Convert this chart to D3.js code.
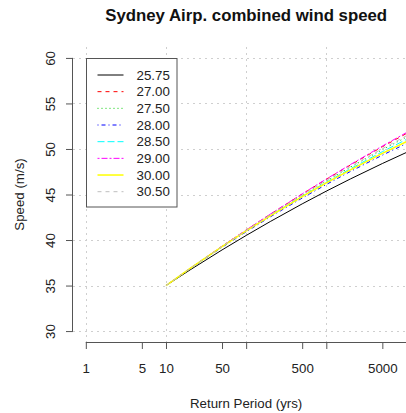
<!DOCTYPE html>
<html><head><meta charset="utf-8">
<script src="https://cdn.jsdelivr.net/npm/d3@7"></script>
<style>
body{margin:0;background:#fff;}
svg{display:block;font-family:"Liberation Sans",Arial,sans-serif;}
</style></head>
<body>
<script>
const returnPeriods = [10, 20, 50, 100, 200, 500, 1000, 2000, 5000, 10000];
const seriesNames = ["25.75","27.00","27.50","28.00","28.50","29.00","30.00","30.50"];
const s2575 = [35, 36.72, 38.91, 40.50, 42.03, 43.97, 45.37, 46.71, 48.40, 49.62];
const s2700 = [35, 36.89, 39.32, 41.10, 42.83, 45.05, 46.67, 48.24, 50.24, 51.70];
const s2750 = [35, 36.89, 39.29, 41.05, 42.75, 44.91, 46.48, 48.00, 49.92, 51.30];
const s2800 = [35, 36.85, 39.20, 40.90, 42.54, 44.61, 46.10, 47.53, 49.32, 50.60];
const s2850 = [35, 36.87, 39.26, 41.00, 42.68, 44.81, 46.35, 47.83, 49.70, 51.05];
const s2900 = [35, 36.89, 39.32, 41.10, 42.84, 45.07, 46.70, 48.29, 50.32, 51.80];
const s3000 = [35, 36.88, 39.27, 41.00, 42.66, 44.76, 46.27, 47.71, 49.51, 50.80];
const s3050 = [35, 36.88, 39.29, 41.05, 42.76, 44.94, 46.53, 48.07, 50.03, 51.45];
const seriesValues = [s2575, s2700, s2750, s2800, s2850, s2900, s3000, s3050];
const xTickValues = [1, 5, 10, 50, 100, 500, 1000, 5000, 10000];
const xTickLabels = ["1", "5", "10", "50", "", "500", "", "5000", ""];
const yTickValues = [30, 35, 40, 45, 50, 55, 60];
const xGrid = [1, 10, 100, 1000, 10000];

const colors = ["#000000","#FF0000","#00CD00","#0000FF","#00FFFF","#FF00FF","#FFFF00","#BEBEBE"];
const dashes = [null,"4,4","1,3","1,3,4,3","7,3","2,2,6,2",null,"4,4"];
const widths = [1,1,1,1,1,1,1.5,1];

const W = 406, H = 413;
const L = 73, R = 419.3, T = 47, B = 342;
const svg = d3.select("body").append("svg").attr("width", W).attr("height", H);

const x = d3.scaleLog().domain([Math.pow(10,-0.16), Math.pow(10,4.16)]).range([L, R]);
const y = d3.scaleLinear().domain([28.8, 61.2]).range([B, T]);

// grid
const grid = svg.append("g").attr("stroke", "#cfcfcf").attr("stroke-dasharray", "2,4").attr("stroke-width", 1);
grid.selectAll("line.v").data(xGrid).join("line")
  .attr("x1", d => Math.round(x(d)) + 0.5).attr("x2", d => Math.round(x(d)) + 0.5)
  .attr("y1", T).attr("y2", B);
grid.selectAll("line.h").data(yTickValues).join("line")
  .attr("y1", d => Math.round(y(d)) + 0.5).attr("y2", d => Math.round(y(d)) + 0.5)
  .attr("x1", L).attr("x2", R);

// clip
svg.append("clipPath").attr("id", "clip").append("rect")
  .attr("x", L).attr("y", T).attr("width", R - L).attr("height", B - T);

const line = d3.line().x(d => x(d[0])).y(d => y(d[1]));
const lines = svg.append("g").attr("clip-path", "url(#clip)");
seriesValues.forEach((vals, i) => {
  lines.append("path")
    .datum(returnPeriods.map((r, j) => [r, vals[j]]))
    .attr("fill", "none")
    .attr("stroke", colors[i])
    .attr("stroke-width", widths[i])
    .attr("stroke-dasharray", dashes[i])
    .attr("d", line);
});

// x axis
const xAxis = d3.axisBottom(x).tickValues(xTickValues)
  .tickFormat((d, i) => xTickLabels[i]).tickSize(7).tickSizeOuter(0).tickPadding(15);
const gx = svg.append("g").attr("transform", `translate(0,${B})`).call(xAxis);
gx.select(".domain").attr("d", `M${x(1)},0.5H${x(10000)}`);
gx.selectAll("line").attr("stroke", "#555");
gx.select(".domain").attr("stroke", "#555");
gx.selectAll("text").attr("font-size", 13.3).attr("fill", "#222").attr("font-family", "Liberation Sans, Arial, sans-serif");

// y axis
const yAxis = d3.axisLeft(y).tickValues(yTickValues).tickSize(7).tickSizeOuter(0).tickPadding(4);
const gy = svg.append("g").attr("transform", `translate(${L},0)`).call(yAxis);
gy.select(".domain").attr("d", `M-0.5,${y(60)}V${y(30)}`).attr("stroke", "#555");
gy.selectAll("line").attr("stroke", "#555");
gy.selectAll(".tick text")
  .attr("font-size", 13.3).attr("fill", "#222")
  .attr("font-family", "Liberation Sans, Arial, sans-serif")
  .attr("text-anchor", "middle").attr("dy", null)
  .attr("x", null)
  .attr("transform", "translate(-23,0) rotate(-90)")
  .attr("dy", "0.35em");

// title
svg.append("text").attr("x", (L + R) / 2).attr("y", 21)
  .attr("text-anchor", "middle").attr("font-weight", "bold").attr("font-size", 16.8)
  .attr("fill", "#111").text("Sydney Airp. combined wind speed");

// axis titles
svg.append("text").attr("x", (L + R) / 2).attr("y", 408)
  .attr("text-anchor", "middle").attr("font-size", 13.3).attr("fill", "#222")
  .text("Return Period (yrs)");
svg.append("text").attr("transform", `translate(24,${(T + B) / 2}) rotate(-90)`)
  .attr("text-anchor", "middle").attr("font-size", 13.3).attr("fill", "#222")
  .text("Speed (m/s)");

// legend
const lg = svg.append("g");
lg.append("rect").attr("x", 86.5).attr("y", 58.5).attr("width", 90.5).attr("height", 148.5)
  .attr("fill", "#fff").attr("stroke", "#555");
seriesNames.forEach((n, i) => {
  const yy = 75 + i * 16.67;
  lg.append("line").attr("x1", 97.5).attr("x2", 123.5).attr("y1", yy).attr("y2", yy)
    .attr("stroke", colors[i]).attr("stroke-width", widths[i]).attr("stroke-dasharray", dashes[i]);
  lg.append("text").attr("x", 136.5).attr("y", yy).attr("dy", "0.35em")
    .attr("font-size", 13.3).attr("fill", "#222").text(n);
});
</script>
</body></html>
